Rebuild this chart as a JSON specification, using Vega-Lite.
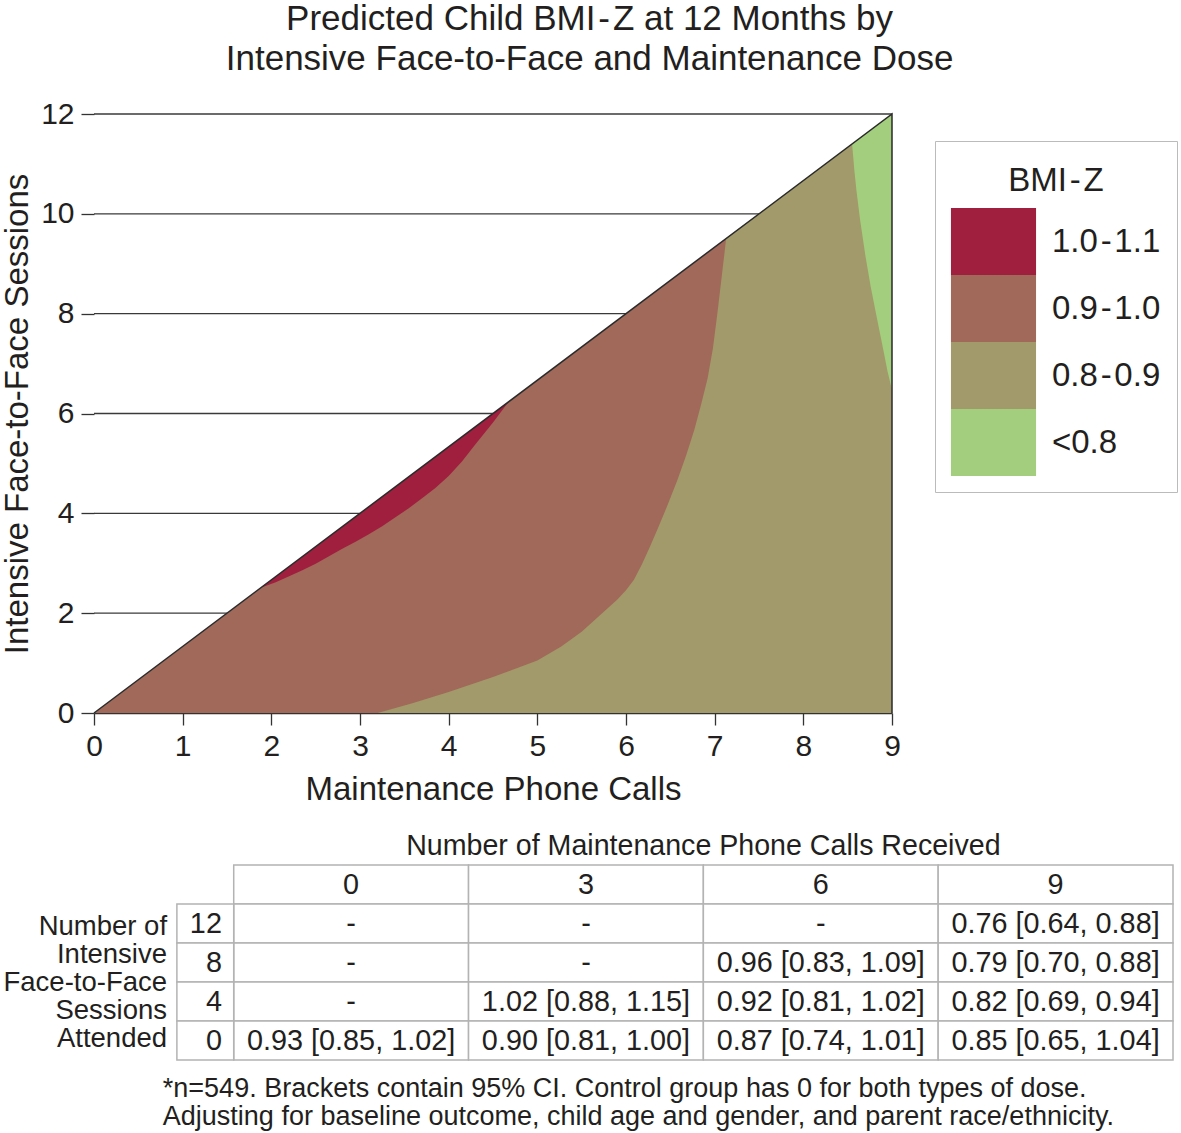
{
  "$schema": "https://vega.github.io/schema/vega-lite/v6.json",
  "padding": {"left": 1, "top": 2, "right": 1, "bottom": 1},
  "background": "#ffffff",
  "config": {
    "font": "Liberation Sans",
    "view": {"stroke": null},
    "axis": {"labelFont": "Liberation Sans", "titleFont": "Liberation Sans", "labelColor": "#231F20", "titleColor": "#231F20", "titleFontWeight": "normal", "labelFontSize": 30, "titleFontSize": 33, "grid": false, "tickColor": "#333333", "domainColor": "#333333", "tickWidth": 1.3, "domainWidth": 1.3},
    "legend": {"orient": "none", "legendX": 841, "legendY": 27, "direction": "vertical", "padding": 16, "strokeColor": "#bbbbbb", "titleFontSize": 33, "titleFontWeight": "normal", "titleColor": "#231F20", "titleAnchor": "middle", "titleBaseline": "line-top", "titleLineHeight": 49, "titlePadding": 18, "symbolType": "M-1.27,-1L1.27,-1L1.27,1L-1.27,1Z", "symbolSize": 4489, "symbolStrokeWidth": 0, "symbolOpacity": 1, "symbolOffset": 9, "labelFontSize": 33, "labelColor": "#231F20", "labelOffset": 25, "rowPadding": 0, "labelLimit": 400},
    "title": {"fontSize": 35, "fontWeight": "normal", "color": "#231F20", "anchor": "middle", "lineHeight": 40, "offset": 22}
  },
  "title": {"text": ["Predicted Child BMI\u200a-\u200aZ at 12 Months by", "Intensive Face-to-Face and Maintenance Dose"]},
  "spacing": 25,
  "datasets": {
    "regions": [
      {"band": "0.9\u200a-\u200a1.0", "x": 0, "lo": 0, "hi": 0},
      {"band": "0.9\u200a-\u200a1.0", "x": 9, "lo": 0, "hi": 12},
      {"band": "0.8\u200a-\u200a0.9", "x": 3.2, "lo": 0, "hi": 0},
      {"band": "0.8\u200a-\u200a0.9", "x": 3.6, "lo": 0, "hi": 0.2},
      {"band": "0.8\u200a-\u200a0.9", "x": 4.0, "lo": 0, "hi": 0.42},
      {"band": "0.8\u200a-\u200a0.9", "x": 4.5, "lo": 0, "hi": 0.72},
      {"band": "0.8\u200a-\u200a0.9", "x": 5.0, "lo": 0, "hi": 1.05},
      {"band": "0.8\u200a-\u200a0.9", "x": 5.27, "lo": 0, "hi": 1.33},
      {"band": "0.8\u200a-\u200a0.9", "x": 5.5, "lo": 0, "hi": 1.63},
      {"band": "0.8\u200a-\u200a0.9", "x": 5.7, "lo": 0, "hi": 1.95},
      {"band": "0.8\u200a-\u200a0.9", "x": 5.9, "lo": 0, "hi": 2.27},
      {"band": "0.8\u200a-\u200a0.9", "x": 6.0, "lo": 0, "hi": 2.46},
      {"band": "0.8\u200a-\u200a0.9", "x": 6.09, "lo": 0, "hi": 2.67},
      {"band": "0.8\u200a-\u200a0.9", "x": 6.18, "lo": 0, "hi": 2.98},
      {"band": "0.8\u200a-\u200a0.9", "x": 6.27, "lo": 0, "hi": 3.33},
      {"band": "0.8\u200a-\u200a0.9", "x": 6.36, "lo": 0, "hi": 3.7},
      {"band": "0.8\u200a-\u200a0.9", "x": 6.47, "lo": 0, "hi": 4.17},
      {"band": "0.8\u200a-\u200a0.9", "x": 6.58, "lo": 0, "hi": 4.67},
      {"band": "0.8\u200a-\u200a0.9", "x": 6.68, "lo": 0, "hi": 5.17},
      {"band": "0.8\u200a-\u200a0.9", "x": 6.77, "lo": 0, "hi": 5.67},
      {"band": "0.8\u200a-\u200a0.9", "x": 6.85, "lo": 0, "hi": 6.2},
      {"band": "0.8\u200a-\u200a0.9", "x": 6.92, "lo": 0, "hi": 6.7},
      {"band": "0.8\u200a-\u200a0.9", "x": 6.98, "lo": 0, "hi": 7.3},
      {"band": "0.8\u200a-\u200a0.9", "x": 7.03, "lo": 0, "hi": 8.0},
      {"band": "0.8\u200a-\u200a0.9", "x": 7.08, "lo": 0, "hi": 8.75},
      {"band": "0.8\u200a-\u200a0.9", "x": 7.13, "lo": 0, "hi": 9.51},
      {"band": "0.8\u200a-\u200a0.9", "x": 9, "lo": 0, "hi": 12},
      {"band": "1.0\u200a-\u200a1.1", "x": 1.88, "lo": 2.51, "hi": 2.51},
      {"band": "1.0\u200a-\u200a1.1", "x": 2.05, "lo": 2.62, "hi": 2.73},
      {"band": "1.0\u200a-\u200a1.1", "x": 2.2, "lo": 2.74, "hi": 2.93},
      {"band": "1.0\u200a-\u200a1.1", "x": 2.35, "lo": 2.86, "hi": 3.13},
      {"band": "1.0\u200a-\u200a1.1", "x": 2.5, "lo": 2.99, "hi": 3.33},
      {"band": "1.0\u200a-\u200a1.1", "x": 2.65, "lo": 3.14, "hi": 3.53},
      {"band": "1.0\u200a-\u200a1.1", "x": 2.8, "lo": 3.29, "hi": 3.73},
      {"band": "1.0\u200a-\u200a1.1", "x": 2.95, "lo": 3.43, "hi": 3.93},
      {"band": "1.0\u200a-\u200a1.1", "x": 3.1, "lo": 3.58, "hi": 4.13},
      {"band": "1.0\u200a-\u200a1.1", "x": 3.25, "lo": 3.74, "hi": 4.33},
      {"band": "1.0\u200a-\u200a1.1", "x": 3.4, "lo": 3.92, "hi": 4.53},
      {"band": "1.0\u200a-\u200a1.1", "x": 3.55, "lo": 4.1, "hi": 4.73},
      {"band": "1.0\u200a-\u200a1.1", "x": 3.7, "lo": 4.3, "hi": 4.93},
      {"band": "1.0\u200a-\u200a1.1", "x": 3.85, "lo": 4.51, "hi": 5.13},
      {"band": "1.0\u200a-\u200a1.1", "x": 4.0, "lo": 4.75, "hi": 5.33},
      {"band": "1.0\u200a-\u200a1.1", "x": 4.15, "lo": 5.04, "hi": 5.53},
      {"band": "1.0\u200a-\u200a1.1", "x": 4.3, "lo": 5.38, "hi": 5.73},
      {"band": "1.0\u200a-\u200a1.1", "x": 4.5, "lo": 5.82, "hi": 6.0},
      {"band": "1.0\u200a-\u200a1.1", "x": 4.67, "lo": 6.22, "hi": 6.23},
      {"band": "<0.8", "x": 8.55, "lo": 11.4, "hi": 11.4},
      {"band": "<0.8", "x": 8.575, "lo": 10.88, "hi": 11.43},
      {"band": "<0.8", "x": 8.6, "lo": 10.45, "hi": 11.47},
      {"band": "<0.8", "x": 8.64, "lo": 9.88, "hi": 11.52},
      {"band": "<0.8", "x": 8.7, "lo": 9.16, "hi": 11.6},
      {"band": "<0.8", "x": 8.76, "lo": 8.54, "hi": 11.68},
      {"band": "<0.8", "x": 8.82, "lo": 8.0, "hi": 11.76},
      {"band": "<0.8", "x": 8.87, "lo": 7.56, "hi": 11.83},
      {"band": "<0.8", "x": 8.91, "lo": 7.2, "hi": 11.88},
      {"band": "<0.8", "x": 8.95, "lo": 6.84, "hi": 11.93},
      {"band": "<0.8", "x": 9.0, "lo": 6.47, "hi": 12}
    ],
    "grid": [
      {"gy": 2, "gx0": 0, "gx": 1.5}, {"gy": 4, "gx0": 0, "gx": 3}, {"gy": 6, "gx0": 0, "gx": 4.5},
      {"gy": 8, "gx0": 0, "gx": 6}, {"gy": 10, "gx0": 0, "gx": 7.5}, {"gy": 12, "gx0": 0, "gx": 9}
    ],
    "outline": [
      {"x": 0, "y": 0, "o": 1}, {"x": 9, "y": 12, "o": 2}, {"x": 9, "y": 0, "o": 3}
    ],
    "cells": [
      {"r": 0, "r1": 1, "c": 0, "c1": 1, "t": "0"},
      {"r": 0, "r1": 1, "c": 1, "c1": 2, "t": "3"},
      {"r": 0, "r1": 1, "c": 2, "c1": 3, "t": "6"},
      {"r": 0, "r1": 1, "c": 3, "c1": 4, "t": "9"},
      {"r": 1, "r1": 2, "c": 0, "c1": 1, "t": "-"},
      {"r": 1, "r1": 2, "c": 1, "c1": 2, "t": "-"},
      {"r": 1, "r1": 2, "c": 2, "c1": 3, "t": "-"},
      {"r": 1, "r1": 2, "c": 3, "c1": 4, "t": "0.76 [0.64, 0.88]"},
      {"r": 2, "r1": 3, "c": 0, "c1": 1, "t": "-"},
      {"r": 2, "r1": 3, "c": 1, "c1": 2, "t": "-"},
      {"r": 2, "r1": 3, "c": 2, "c1": 3, "t": "0.96 [0.83, 1.09]"},
      {"r": 2, "r1": 3, "c": 3, "c1": 4, "t": "0.79 [0.70, 0.88]"},
      {"r": 3, "r1": 4, "c": 0, "c1": 1, "t": "-"},
      {"r": 3, "r1": 4, "c": 1, "c1": 2, "t": "1.02 [0.88, 1.15]"},
      {"r": 3, "r1": 4, "c": 2, "c1": 3, "t": "0.92 [0.81, 1.02]"},
      {"r": 3, "r1": 4, "c": 3, "c1": 4, "t": "0.82 [0.69, 0.94]"},
      {"r": 4, "r1": 5, "c": 0, "c1": 1, "t": "0.93 [0.85, 1.02]"},
      {"r": 4, "r1": 5, "c": 1, "c1": 2, "t": "0.90 [0.81, 1.00]"},
      {"r": 4, "r1": 5, "c": 2, "c1": 3, "t": "0.87 [0.74, 1.01]"},
      {"r": 4, "r1": 5, "c": 3, "c1": 4, "t": "0.85 [0.65, 1.04]"}
    ],
    "rownums": [
      {"r": 1, "r1": 2, "c": -0.242, "c1": 0, "t": "12"},
      {"r": 2, "r1": 3, "c": -0.242, "c1": 0, "t": "8"},
      {"r": 3, "r1": 4, "c": -0.242, "c1": 0, "t": "4"},
      {"r": 4, "r1": 5, "c": -0.242, "c1": 0, "t": "0"}
    ],
    "rowlabel": [{"t": "Number of\nIntensive\nFace-to-Face\nSessions\nAttended"}],
    "header": [{"t": "Number of Maintenance Phone Calls Received"}],
    "footnote": [{"t": "*n=549. Brackets contain 95% CI. Control group has 0 for both types of dose.\nAdjusting for baseline outcome, child age and gender, and parent race/ethnicity."}]
  },
  "vconcat": [
    {
      "width": 798,
      "height": 599,
      "layer": [
        {
          "data": {"name": "grid"},
          "mark": {"type": "rule", "color": "#3a3a3a", "strokeWidth": 1.3},
          "encoding": {
            "x": {"field": "gx0", "type": "quantitative", "title": "Maintenance Phone Calls"},
            "x2": {"field": "gx"},
            "y": {"field": "gy", "type": "quantitative", "title": "Intensive Face-to-Face Sessions"}
          }
        },
        {
          "data": {"name": "regions"},
          "transform": [{"filter": {"field": "band", "equal": "0.9\u200a-\u200a1.0"}}],
          "mark": {"type": "area", "opacity": 1, "interpolate": "linear"},
          "encoding": {
            "x": {"field": "x", "type": "quantitative", "title": "Maintenance Phone Calls", "scale": {"domain": [0, 9], "nice": false, "zero": false},
              "axis": {"values": [0, 1, 2, 3, 4, 5, 6, 7, 8, 9], "format": "d", "labelFlush": false, "tickSize": 12, "labelPadding": 6, "titlePadding": 12}},
            "y": {"field": "lo", "type": "quantitative", "stack": null, "title": "Intensive Face-to-Face Sessions", "scale": {"domain": [0, 12], "nice": false, "zero": false},
              "axis": {"values": [0, 2, 4, 6, 8, 10, 12], "format": "d", "domain": false, "tickSize": 13, "labelPadding": 7, "titlePadding": 6}},
            "y2": {"field": "hi"},
            "color": {"field": "band", "type": "nominal", "title": "BMI\u200a-\u200aZ",
              "scale": {"domain": ["1.0\u200a-\u200a1.1", "0.9\u200a-\u200a1.0", "0.8\u200a-\u200a0.9", "<0.8"], "range": ["#A01F3E", "#A0695A", "#A29A6A", "#A3CE7D"]}}
          }
        },
        {
          "data": {"name": "regions"},
          "transform": [{"filter": {"field": "band", "equal": "0.8\u200a-\u200a0.9"}}],
          "mark": {"type": "area", "opacity": 1, "interpolate": "linear"},
          "encoding": {
            "x": {"field": "x", "type": "quantitative", "title": "Maintenance Phone Calls"},
            "y": {"field": "lo", "type": "quantitative", "stack": null, "title": "Intensive Face-to-Face Sessions"},
            "y2": {"field": "hi"},
            "color": {"field": "band", "type": "nominal", "title": "BMI\u200a-\u200aZ"}
          }
        },
        {
          "data": {"name": "regions"},
          "transform": [{"filter": {"field": "band", "equal": "1.0\u200a-\u200a1.1"}}],
          "mark": {"type": "area", "opacity": 1, "interpolate": "linear"},
          "encoding": {
            "x": {"field": "x", "type": "quantitative", "title": "Maintenance Phone Calls"},
            "y": {"field": "lo", "type": "quantitative", "stack": null, "title": "Intensive Face-to-Face Sessions"},
            "y2": {"field": "hi"},
            "color": {"field": "band", "type": "nominal", "title": "BMI\u200a-\u200aZ"}
          }
        },
        {
          "data": {"name": "regions"},
          "transform": [{"filter": {"field": "band", "equal": "<0.8"}}],
          "mark": {"type": "area", "opacity": 1, "interpolate": "linear"},
          "encoding": {
            "x": {"field": "x", "type": "quantitative", "title": "Maintenance Phone Calls"},
            "y": {"field": "lo", "type": "quantitative", "stack": null, "title": "Intensive Face-to-Face Sessions"},
            "y2": {"field": "hi"},
            "color": {"field": "band", "type": "nominal", "title": "BMI\u200a-\u200aZ"}
          }
        },
        {
          "data": {"name": "outline"},
          "mark": {"type": "line", "color": "#2b2b2b", "strokeWidth": 1.5},
          "encoding": {
            "x": {"field": "x", "type": "quantitative", "title": "Maintenance Phone Calls"},
            "y": {"field": "y", "type": "quantitative", "title": "Intensive Face-to-Face Sessions"},
            "order": {"field": "o", "type": "quantitative"}
          }
        }
      ]
    },
    {
      "width": 1079,
      "height": 195,
      "layer": [
        {
          "data": {"name": "cells"},
          "mark": {"type": "rect", "fill": "#ffffff", "stroke": "#b3b3b3", "strokeWidth": 1.5},
          "encoding": {
            "x": {"field": "c", "type": "quantitative", "scale": {"domain": [-0.595, 4], "nice": false, "zero": false}, "axis": null},
            "x2": {"field": "c1"},
            "y": {"field": "r", "type": "quantitative", "scale": {"domain": [0, 5], "reverse": true, "nice": false, "zero": false}, "axis": null},
            "y2": {"field": "r1"}
          }
        },
        {
          "data": {"name": "rownums"},
          "mark": {"type": "rect", "fill": "#ffffff", "stroke": "#b3b3b3", "strokeWidth": 1.5},
          "encoding": {
            "x": {"field": "c", "type": "quantitative"},
            "x2": {"field": "c1"},
            "y": {"field": "r", "type": "quantitative"},
            "y2": {"field": "r1"}
          }
        },
        {
          "data": {"name": "cells"},
          "mark": {"type": "text", "fontSize": 28.8, "align": "center", "baseline": "middle", "dx": 117.4, "dy": 19.5, "color": "#231F20"},
          "encoding": {
            "x": {"field": "c", "type": "quantitative"},
            "y": {"field": "r", "type": "quantitative"},
            "text": {"field": "t"}
          }
        },
        {
          "data": {"name": "rownums"},
          "mark": {"type": "text", "fontSize": 28.8, "align": "right", "baseline": "middle", "dx": 45, "dy": 19.5, "color": "#231F20"},
          "encoding": {
            "x": {"field": "c", "type": "quantitative"},
            "y": {"field": "r", "type": "quantitative"},
            "text": {"field": "t"}
          }
        },
        {
          "data": {"name": "rowlabel"},
          "mark": {"type": "text", "fontSize": 27.5, "align": "right", "baseline": "top", "lineBreak": "\n", "lineHeight": 28, "color": "#231F20"},
          "encoding": {
            "x": {"datum": -0.284, "type": "quantitative"},
            "y": {"datum": 1.23, "type": "quantitative"},
            "text": {"field": "t"}
          }
        },
        {
          "data": {"name": "header"},
          "mark": {"type": "text", "fontSize": 28.6, "align": "center", "baseline": "middle", "color": "#231F20"},
          "encoding": {
            "x": {"datum": 2.0, "type": "quantitative"},
            "y": {"datum": -0.5, "type": "quantitative"},
            "text": {"field": "t"}
          }
        },
        {
          "data": {"name": "footnote"},
          "mark": {"type": "text", "fontSize": 27, "align": "left", "baseline": "top", "lineBreak": "\n", "lineHeight": 28, "color": "#231F20"},
          "encoding": {
            "x": {"datum": -0.302, "type": "quantitative"},
            "y": {"datum": 5.4, "type": "quantitative"},
            "text": {"field": "t"}
          }
        }
      ]
    }
  ]
}
